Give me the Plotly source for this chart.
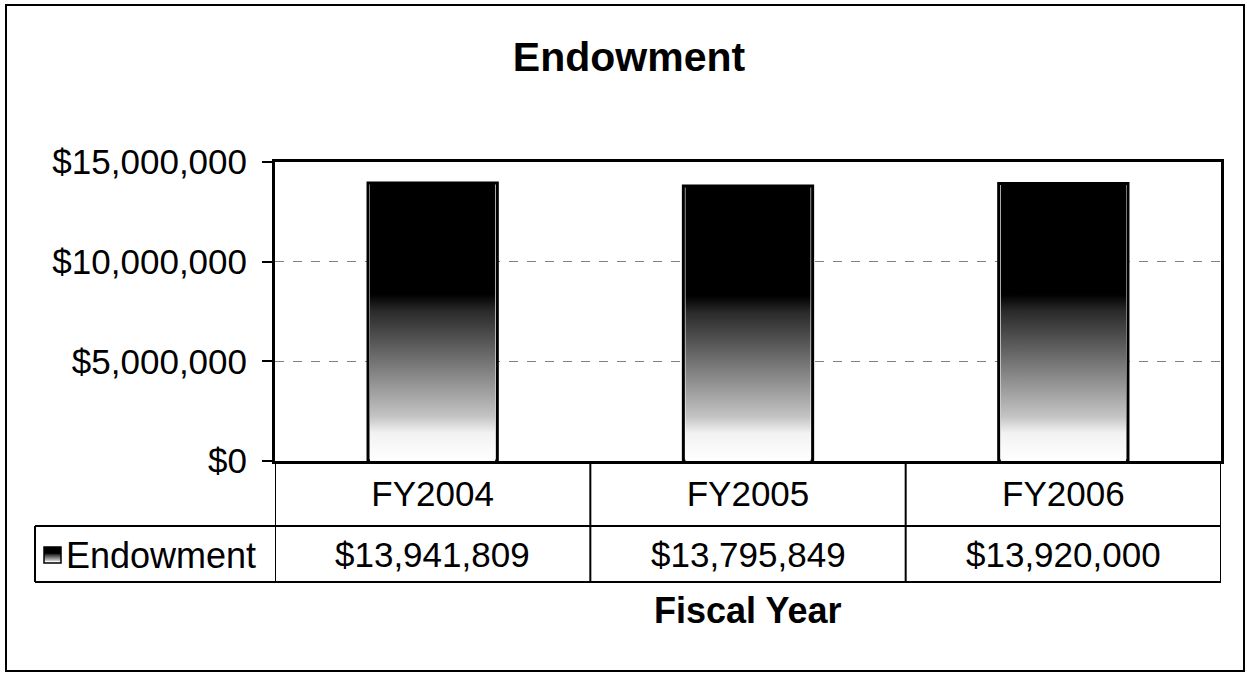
import base64
import plotly.graph_objects as go

# ---- data ----
categories = ["FY2004", "FY2005", "FY2006"]
endowment = [13941809, 13795849, 13920000]
series_name = "Endowment"
y_tickvals = [0, 5000000, 10000000, 15000000]
chart_title = "Endowment"
x_title = "Fiscal Year"

W, H = 1247, 673
L, R, T, B = 275, 1221, 162, 461  # plot area in pixels
FONT = "Liberation Sans, Arial, sans-serif"
FS = 35


def px(xp):
    return (xp - L) / (R - L)


def py(yp):
    return (B - yp) / (B - T)


grad_svg = (
    '<svg xmlns="http://www.w3.org/2000/svg" width="100" height="100" viewBox="0 0 100 100" '
    'preserveAspectRatio="none"><defs><linearGradient id="g" x1="0" y1="0" x2="0" y2="1">'
    '<stop offset="0" stop-color="#000"/><stop offset="0.40" stop-color="#000"/>'
    '<stop offset="0.46" stop-color="#2a2a2a"/><stop offset="0.58" stop-color="#5a5a5a"/>'
    '<stop offset="0.72" stop-color="#939393"/><stop offset="0.84" stop-color="#c4c4c4"/>'
    '<stop offset="0.90" stop-color="#f2f2f2"/><stop offset="1" stop-color="#fff"/>'
    '</linearGradient></defs><rect x="0" y="0" width="100" height="100" fill="url(#g)"/></svg>'
)
grad_src = "data:image/svg+xml;base64," + base64.b64encode(grad_svg.encode()).decode()

bar_width = 0.41
inset = 0.006  # keep the bar's own outline visible around the gradient fill

fig = go.Figure()
fig.add_trace(go.Bar(
    x=categories, y=endowment, name=series_name, width=bar_width,
    marker=dict(color="white", line=dict(color="black", width=3)),
    showlegend=False,
))

images = []
for i, v in enumerate(endowment):
    images.append(dict(source=grad_src, xref="x", yref="y", x=i - bar_width / 2 + inset, y=v,
                       sizex=bar_width - 2 * inset, sizey=v, sizing="stretch",
                       xanchor="left", yanchor="top", layer="above"))
# legend key
images.append(dict(source=grad_src, xref="paper", yref="paper", x=px(44), y=py(547),
                   sizex=17 / (R - L), sizey=16 / (B - T), sizing="stretch",
                   xanchor="left", yanchor="top", layer="above"))

shapes = []
line = dict(color="black", width=2)
# table horizontal lines
for yy in (526, 582):
    shapes.append(dict(type="line", xref="paper", yref="paper", x0=px(35), x1=1,
                       y0=py(yy), y1=py(yy), line=line))
# table vertical lines at category boundaries
for b in [-0.5, 0.5, 1.5, 2.5]:
    shapes.append(dict(type="line", xref="x", yref="paper", x0=b, x1=b,
                       y0=0, y1=py(582), line=line))
shapes.append(dict(type="line", xref="paper", yref="paper", x0=px(35), x1=px(35),
                   y0=py(526), y1=py(582), line=line))
# legend key border
shapes.append(dict(type="rect", xref="paper", yref="paper", x0=px(44), x1=px(61),
                   y0=py(563), y1=py(547), line=dict(color="black", width=1.5)))
# outer chart frame
shapes.append(dict(type="rect", xref="paper", yref="paper", x0=px(6), x1=px(1244),
                   y0=py(671), y1=py(5), line=dict(color="black", width=2)))

annotations = []
for i, v in enumerate(endowment):
    annotations.append(dict(x=i, xref="x", y=py(554), yref="paper", text=f"${v:,.0f}",
                            showarrow=False, font=dict(family=FONT, size=FS, color="black"),
                            xanchor="center", yanchor="middle"))
annotations.append(dict(x=px(64), xref="paper", y=py(555), yref="paper", text=series_name,
                        showarrow=False, font=dict(family=FONT, size=FS + 1, color="black"),
                        xanchor="left", yanchor="middle"))
annotations.append(dict(x=px(748), xref="paper", y=py(610), yref="paper",
                        text=f"<b>{x_title}</b>", showarrow=False,
                        font=dict(family=FONT, size=36, color="black"),
                        xanchor="center", yanchor="middle"))

fig.update_layout(
    width=W, height=H,
    margin=dict(l=L, r=W - R, t=T, b=H - B, pad=0),
    paper_bgcolor="white", plot_bgcolor="white",
    title=dict(text=f"<b>{chart_title}</b>", x=629 / W, xanchor="center",
               y=1 - 57 / H, yanchor="middle",
               font=dict(family=FONT, size=41, color="black")),
    xaxis=dict(type="category", range=[-0.5, 2.5], showline=True, linecolor="black",
               linewidth=3, mirror=True, showgrid=False, ticks="",
               ticklabelstandoff=0,
               tickfont=dict(family=FONT, size=FS, color="black")),
    yaxis=dict(range=[0, 15000000], tickvals=y_tickvals,
               ticktext=[f"${v:,.0f}" for v in y_tickvals],
               showline=True, linecolor="black", linewidth=3,
               mirror=True, ticks="outside", ticklen=10, tickwidth=2,
               tickcolor="black", ticklabelstandoff=8,
               showgrid=True, gridcolor="#808080", gridwidth=1, griddash="dash",
               zeroline=False,
               tickfont=dict(family=FONT, size=FS, color="black")),
    images=images, shapes=shapes, annotations=annotations,
    bargap=0.59, showlegend=False,
)

fig.write_html("out.html", config={"displayModeBar": False},
               post_script="document.body.style.margin='0';")
